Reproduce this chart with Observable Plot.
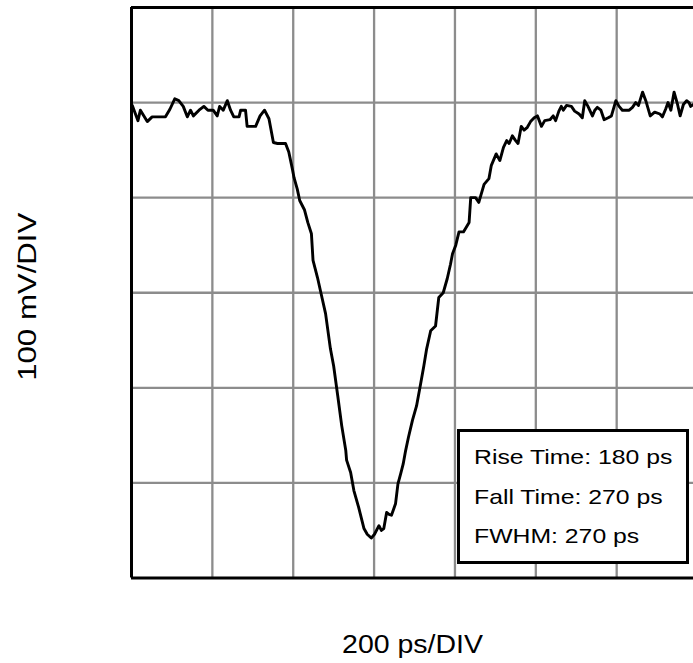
<!DOCTYPE html>
<html>
<head>
<meta charset="utf-8">
<script src="https://cdn.jsdelivr.net/npm/d3@7"></script>
<script src="https://cdn.jsdelivr.net/npm/@observablehq/plot@0.6"></script>
<style>
  html, body { margin: 0; padding: 0; background: #fff; }
  #wrap { position: relative; width: 693px; height: 663px; overflow: hidden; font-family: "Liberation Sans", Arial, sans-serif; }
  #wrap svg { display: block; font-family: "Liberation Sans", Arial, sans-serif; }
  #stats {
    position: absolute; left: 457px; top: 429px; width: 226px; height: 129px;
    border: 3px solid #000; background: #fff; box-sizing: content-box;
  }
  #stats div {
    position: absolute; left: 14px; font-size: 21px; line-height: 21px; color: #000;
    transform: scaleX(1.18); transform-origin: 0 0; white-space: nowrap;
  }
</style>
</head>
<body>
<div id="wrap"></div>
<script>
// Time (ps) and signal (mV)
const timePs = [2,16,22,39,51,84,95,107,117,128,138,146,153,167,179,189,202,212,218,227,237,245,253,266,270,282,286,307,318,329,340,351,361,381,389,398,402,410,416,428,436,445,449,460,469,480,492,500,510,520,530,532,542,550,562,575,583,593,601,612,618,624,631,637,643,653,659,666,672,678,685,695,705,715,723,730,740,752,760,771,781,789,794,802,810,821,835,839,851,859,872,884,890,902,911,920,928,934,942,950,956,964,971,979,987,996,1004,1014,1022,1035,1043,1049,1057,1063,1068,1076,1088,1096,1107,1115,1121,1129,1140,1146,1152,1161,1169,1179,1187,1198,1206,1214,1231,1239,1247,1254,1264,1272,1283,1294,1307,1313,1321,1327,1334,1342,1350,1357,1365,1373,1379,1383,1390];
const signalMv = [-3,-19,-8,-20,-15,-15,-7,4,2,-4,-15,-8,-14,-8,-4,-8,-8,-14,-4,-8,2,-8,-15,-15,-8,-8,-25,-25,-14,-8,-17,-42,-43,-43,-52,-70,-79,-91,-103,-113,-126,-138,-166,-184,-201,-222,-259,-277,-308,-340,-366,-376,-389,-408,-426,-448,-454,-458,-454,-445,-450,-448,-431,-433,-434,-422,-401,-390,-380,-366,-352,-334,-319,-296,-277,-259,-240,-235,-205,-200,-185,-170,-159,-150,-136,-136,-126,-100,-100,-105,-86,-80,-66,-54,-61,-47,-40,-43,-35,-40,-43,-25,-29,-26,-20,-16,-14,-25,-19,-18,-14,-19,-9,-4,-8,-3,-4,-9,-12,-16,2,-4,-14,-8,-5,-8,-18,-16,-14,2,-4,-8,-8,-5,0,-3,11,2,-14,-10,-12,-15,-7,0,-8,11,-1,-14,-2,2,0,-4,-2];

// Graticule (200 ps/div, 100 mV/div)
const gridTimes = [200, 400, 600, 800, 1000, 1200];
const gridVolts = [-400, -300, -200, -100, 0];
const timeRange = [0, 1390];
const voltRange = [-500, 100];

const xLabel = "200 ps/DIV";
const yLabel = "100 mV/DIV";
const statLabels = ["Rise Time: 180 ps", "Fall Time: 270 ps", "FWHM: 270 ps"];

const trace = timePs.map((t, i) => ({t, v: signalMv[i]}));

const chart = Plot.plot({
  width: 693,
  height: 663,
  marginLeft: 131,
  marginRight: 0,
  marginTop: 7,
  marginBottom: 85.5,
  x: {domain: timeRange, axis: null},
  y: {domain: voltRange, axis: null},
  marks: [
    Plot.ruleX(gridTimes, {stroke: "#8c8c8c", strokeWidth: 2.3}),
    Plot.ruleY(gridVolts, {stroke: "#8c8c8c", strokeWidth: 2.3}),
    Plot.line(trace, {x: "t", y: "v", stroke: "#000", strokeWidth: 2.9, strokeLinejoin: "round"}),
    Plot.ruleX([timeRange[0]], {stroke: "#000", strokeWidth: 3}),
    Plot.ruleY([voltRange[0], voltRange[1]], {stroke: "#000", strokeWidth: 3}),
    Plot.text([xLabel], {text: d => d, frameAnchor: "bottom", textAnchor: "middle", lineAnchor: "bottom", dy: 75, fontSize: 25, fill: "#000", className: "xlab"}),
    Plot.text([yLabel], {text: d => d, frameAnchor: "left", textAnchor: "middle", lineAnchor: "middle", rotate: -90, dx: -104, dy: 4, fontSize: 26, fill: "#000", className: "ylab"})
  ]
});

// widen glyphs horizontally to match the reference typeface proportions
chart.querySelectorAll("text").forEach(el => {
  const tr = el.getAttribute("transform") || "";
  const k = /rotate/.test(tr) ? 1.2 : 1.14;
  el.setAttribute("transform", tr + ` scale(${k},1)`);
});

const wrap = document.getElementById("wrap");
wrap.appendChild(chart);

const box = document.createElement("div");
box.id = "stats";
statLabels.forEach((s, i) => {
  const d = document.createElement("div");
  d.textContent = s;
  d.style.top = (14 + i * 39.5) + "px";
  box.appendChild(d);
});
wrap.appendChild(box);
</script>
</body>
</html>
